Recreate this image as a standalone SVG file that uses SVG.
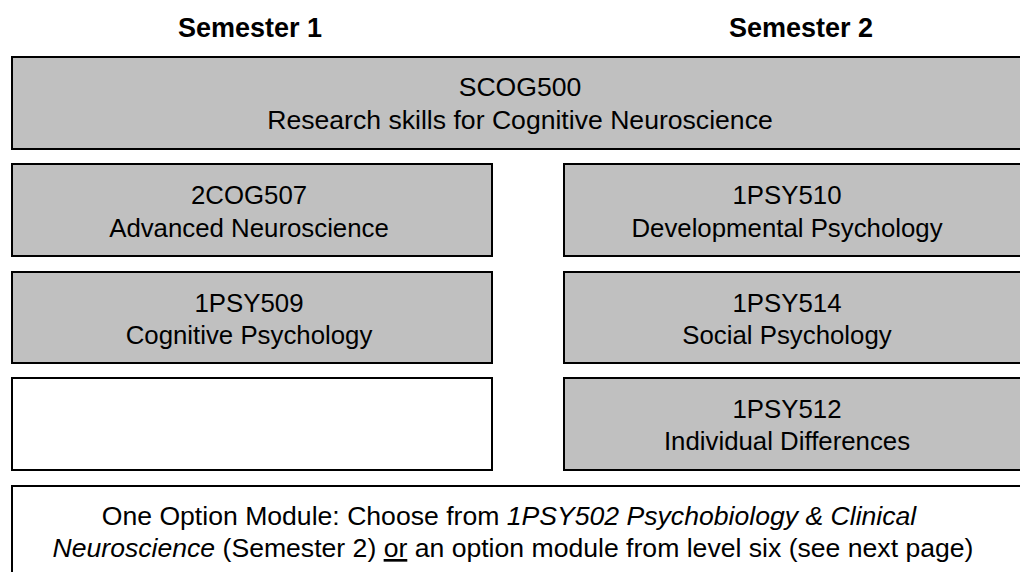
<svg xmlns="http://www.w3.org/2000/svg" width="1020" height="572" viewBox="0 0 1020 572">
<style>
.box{fill:#c0c0c0;stroke:#000;stroke-width:2}
.empty{fill:#fff;stroke:#000;stroke-width:2}
.t{font-family:"Liberation Sans",Arial,sans-serif;font-size:25.8px;fill:#000;text-anchor:middle}
.w{font-size:26.6px}
.h{font-family:"Liberation Sans",Arial,sans-serif;font-size:27px;font-weight:bold;fill:#000;text-anchor:middle}
</style>
<rect width="1020" height="572" fill="#fff"/>
<g id="headers">
<text class="h" x="250" y="37">Semester 1</text>
<text class="h" x="801" y="37">Semester 2</text>
</g>
<g id="scog500">
<rect class="box" x="12" y="57" width="1020" height="92"/>
<text class="t w" x="520" y="96">SCOG500</text>
<text class="t w" x="520" y="129">Research skills for Cognitive Neuroscience</text>
</g>
<g id="cog507">
<rect class="box" x="12" y="164" width="480" height="92"/>
<text class="t" x="249" y="204">2COG507</text>
<text class="t" x="249" y="237">Advanced Neuroscience</text>
</g>
<g id="psy510">
<rect class="box" x="564" y="164" width="470" height="92"/>
<text class="t" x="787" y="204">1PSY510</text>
<text class="t" x="787" y="237">Developmental Psychology</text>
</g>
<g id="psy509">
<rect class="box" x="12" y="272" width="480" height="91"/>
<text class="t" x="249" y="312">1PSY509</text>
<text class="t" x="249" y="344">Cognitive Psychology</text>
</g>
<g id="psy514">
<rect class="box" x="564" y="272" width="470" height="91"/>
<text class="t" x="787" y="312">1PSY514</text>
<text class="t" x="787" y="344">Social Psychology</text>
</g>
<g id="empty">
<rect class="empty" x="12" y="378" width="480" height="92"/>
</g>
<g id="psy512">
<rect class="box" x="564" y="378" width="470" height="92"/>
<text class="t" x="787" y="418">1PSY512</text>
<text class="t" x="787" y="450">Individual Differences</text>
</g>
<g id="option">
<rect class="empty" x="12" y="486" width="1020" height="100"/>
<text class="t w" x="509" y="525">One Option Module: Choose from <tspan font-style="italic">1PSY502 Psychobiology &amp; Clinical</tspan></text>
<text class="t w" x="513" y="557"><tspan font-style="italic">Neuroscience</tspan> (Semester 2) <tspan text-decoration="underline">or</tspan> an option module from level six (see next page)</text>
</g>
<g id="connectors"/>
</svg>
